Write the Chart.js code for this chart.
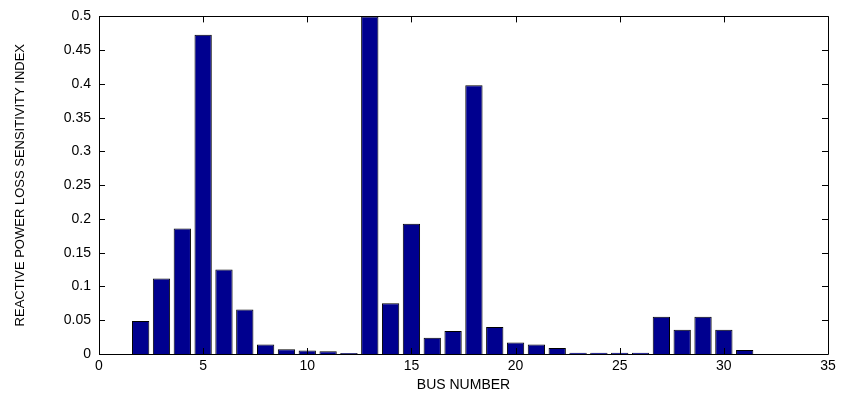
<!DOCTYPE html>
<html>
<head>
<meta charset="utf-8">
<script src="https://cdn.jsdelivr.net/npm/chart.js@4"></script>
<style>
html,body{margin:0;padding:0;background:#fff;}
#wrap{width:842px;height:394px;}
</style>
</head>
<body>
<div id="wrap"><canvas id="c" width="842" height="394"></canvas></div>
<script>
const buses = [1,2,3,4,5,6,7,8,9,10,11,12,13,14,15,16,17,18,19,20,21,22,23,24,25,26,27,28,29,30,31];
const sensitivity = [0, 0.049, 0.112, 0.186, 0.473, 0.125, 0.066, 0.014, 0.007, 0.005, 0.004, 0.0015, 0.5, 0.075, 0.193, 0.024, 0.034, 0.398, 0.040, 0.017, 0.014, 0.009, 0.002, 0.002, 0.002, 0.002, 0.055, 0.036, 0.055, 0.036, 0.006];
const xTicks = [0,5,10,15,20,25,30,35];
const yTicks = [0,0.05,0.1,0.15,0.2,0.25,0.3,0.35,0.4,0.45,0.5];
const xTitle = 'BUS NUMBER';
const yTitle = 'REACTIVE POWER LOSS SENSITIVITY INDEX';

const framePlugin = {
  id: 'frame',
  afterDraw(chart) {
    const {ctx, chartArea: a, scales: {x, y}} = chart;
    ctx.save();
    ctx.strokeStyle = '#000';
    ctx.lineWidth = 1;
    ctx.beginPath();
    ctx.rect(Math.round(a.left) + 0.5, Math.round(a.top) + 0.5, Math.round(a.right - a.left), Math.round(a.bottom - a.top));
    ctx.stroke();
    const L = 6;
    ctx.beginPath();
    xTicks.forEach(v => {
      const px = Math.round(x.getPixelForValue(v)) + 0.5;
      ctx.moveTo(px, a.bottom); ctx.lineTo(px, a.bottom - L);
      ctx.moveTo(px, a.top); ctx.lineTo(px, a.top + L);
    });
    yTicks.forEach(v => {
      const py = Math.round(y.getPixelForValue(v)) + 0.5;
      ctx.moveTo(a.left, py); ctx.lineTo(a.left + L, py);
      ctx.moveTo(a.right, py); ctx.lineTo(a.right - L, py);
    });
    ctx.stroke();
    ctx.restore();
  }
};

new Chart(document.getElementById('c'), {
  type: 'bar',
  data: {
    datasets: [{
      data: buses.map((b, i) => ({x: b, y: sensitivity[i]})),
      backgroundColor: '#00008F',
      borderColor: '#000000',
      borderWidth: 1,
      barPercentage: 0.83,
      categoryPercentage: 1.0
    }]
  },
  plugins: [framePlugin],
  options: {
    responsive: false,
    animation: false,
    layout: {padding: {top: 15, right: 14, bottom: 0, left: 13}},
    plugins: {legend: {display: false}, tooltip: {enabled: false}},
    scales: {
      x: {
        type: 'linear', min: 0, max: 35, offset: false,
        afterBuildTicks: s => { s.ticks = xTicks.map(v => ({value: v})); },
        afterFit: s => { s.height = 40; },
        grid: {display: false, drawTicks: false, offset: false},
        border: {display: false},
        ticks: {color: '#000', font: {family: 'Liberation Sans, Arial', size: 14}, padding: 4, maxRotation: 0},
        title: {display: true, text: xTitle, color: '#000', font: {family: 'Liberation Sans, Arial', size: 14}, padding: {top: 0, bottom: 0}}
      },
      y: {
        min: 0, max: 0.5,
        afterBuildTicks: s => { s.ticks = yTicks.map(v => ({value: v})); },
        afterFit: s => { s.width = 86; },
        grid: {display: false, drawTicks: false},
        border: {display: false},
        ticks: {color: '#000', font: {family: 'Liberation Sans, Arial', size: 14}, padding: 8,
          callback: v => String(Math.round(v * 100) / 100)},
        title: {display: true, text: yTitle, color: '#000', font: {family: 'Liberation Sans, Arial', size: 13}, padding: {top: 0, bottom: 4}}
      }
    }
  }
});
</script>
</body>
</html>
